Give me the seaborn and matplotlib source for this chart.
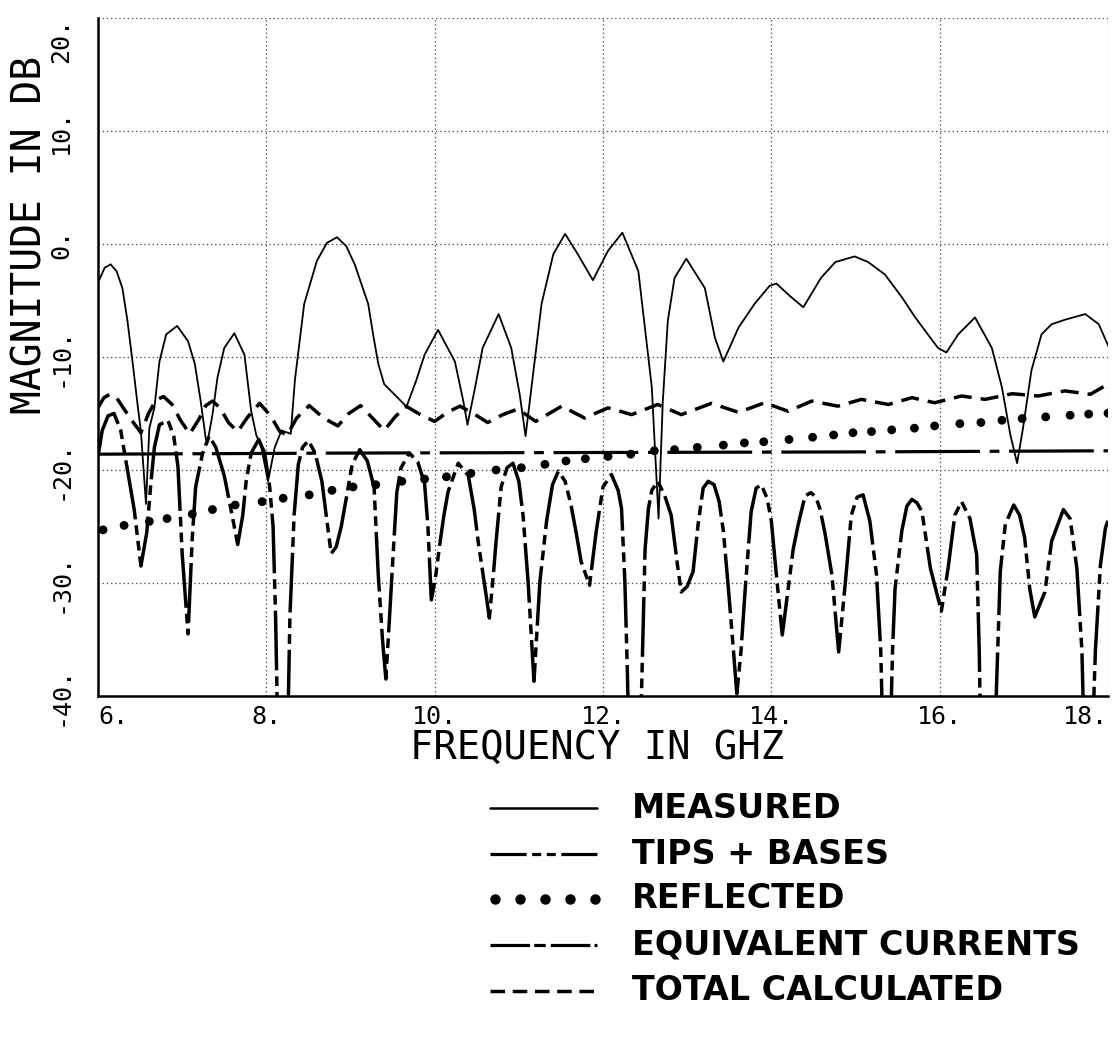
import matplotlib
matplotlib.use("Agg")
import matplotlib.pyplot as plt
import seaborn as sns
from matplotlib.lines import Line2D

# -----------------------------
# Data (frequency in GHz, magnitude in dB)
# -----------------------------
measured_f = [6.00, 6.08, 6.15, 6.22, 6.29, 6.35, 6.41, 6.47, 6.51, 6.57, 6.61, 6.67, 6.73, 6.81,
              6.94, 7.07, 7.15, 7.22, 7.28, 7.30, 7.36, 7.42, 7.50, 7.62, 7.74, 7.82, 7.88, 7.94,
              8.02, 8.10, 8.18, 8.29, 8.34, 8.45, 8.60, 8.72, 8.84, 8.95, 9.05, 9.21, 9.28, 9.33,
              9.40, 9.52, 9.64, 9.66, 9.78, 9.88, 10.04, 10.24, 10.34, 10.39, 10.48, 10.57, 10.76,
              10.91, 11.01, 11.08, 11.15, 11.27, 11.41, 11.55, 11.70, 11.88, 12.06, 12.23, 12.42,
              12.58, 12.66, 12.71, 12.77, 12.85, 12.99, 13.21, 13.33, 13.43, 13.61, 13.80, 13.98,
              14.06, 14.22, 14.38, 14.59, 14.76, 14.99, 15.15, 15.35, 15.55, 15.71, 15.86, 15.98,
              16.08, 16.22, 16.42, 16.62, 16.74, 16.84, 16.92, 16.99, 17.09, 17.21, 17.33, 17.49,
              17.73, 17.89, 18.02]
measured_db = [-3.4, -2.1, -1.8, -2.4, -3.9, -6.8, -10.4, -14.2, -16.6, -23.0, -16.3, -14.5, -10.4, -8.0,
               -7.25, -8.6, -10.6, -13.9, -17.2, -17.6, -15.1, -11.8, -9.2, -7.9, -9.8, -14.8, -16.9, -18.0,
               -21.0, -18.0, -16.5, -16.8, -12.0, -5.3, -1.5, 0.1, 0.6, -0.2, -1.8, -5.3, -8.5, -10.6,
               -12.4, -13.3, -14.2, -14.5, -12.1, -9.8, -7.6, -10.4, -13.9, -16.0, -12.7, -9.2, -6.2,
               -9.2, -13.3, -17.0, -12.7, -5.3, -0.9, 0.9, -0.9, -3.2, -0.6, 1.0, -2.4,
               -12.7, -24.3, -14.0, -6.8, -3.0, -1.3, -3.9, -8.3, -10.4, -7.4, -5.3, -3.7,
               -3.5, -4.6, -5.6, -3.0, -1.6, -1.1, -1.6, -2.7, -4.7, -6.5, -8.0, -9.2,
               -9.6, -8.0, -6.5, -9.2, -12.7, -16.9, -19.4, -16.3, -11.2, -8.0, -7.1, -6.7,
               -6.2, -7.1, -9.3]

tips_f = [6.00, 6.05, 6.12, 6.19, 6.27, 6.35, 6.43, 6.51, 6.58, 6.63, 6.67, 6.73, 6.83, 6.90, 6.95,
          7.00, 7.07, 7.12, 7.16, 7.24, 7.32, 7.40, 7.50, 7.58, 7.66, 7.72, 7.76, 7.82, 7.91, 7.98,
          8.04, 8.08, 8.11, 8.14, 8.25, 8.28, 8.33, 8.38, 8.43, 8.50, 8.58, 8.66, 8.72, 8.77, 8.83,
          8.89, 8.95, 9.02, 9.11, 9.20, 9.28, 9.33, 9.38, 9.42, 9.46, 9.51, 9.55, 9.60, 9.70, 9.80,
          9.88, 9.92, 9.96, 10.01, 10.06, 10.11, 10.16, 10.28, 10.40, 10.47, 10.52, 10.60, 10.65,
          10.70, 10.73, 10.79, 10.86, 10.93, 11.00, 11.05, 11.11, 11.18, 11.25, 11.33, 11.40, 11.47,
          11.55, 11.62, 11.68, 11.74, 11.84, 11.92, 12.00, 12.10, 12.18, 12.22, 12.26, 12.29, 12.31,
          12.44, 12.47, 12.50, 12.54, 12.58, 12.65, 12.73, 12.81, 12.89, 12.93, 13.00, 13.07, 13.13,
          13.19, 13.25, 13.32, 13.38, 13.43, 13.49, 13.55, 13.59, 13.64, 13.69, 13.76, 13.82, 13.88,
          13.95, 14.00, 14.06, 14.13, 14.20, 14.26, 14.32, 14.40, 14.47, 14.53, 14.58, 14.64, 14.72,
          14.80, 14.88, 14.95, 15.02, 15.09, 15.17, 15.25, 15.30, 15.33, 15.41, 15.44, 15.47, 15.55,
          15.61, 15.67, 15.73, 15.79, 15.89, 16.02, 16.10, 16.18, 16.26, 16.36, 16.44, 16.47, 16.49,
          16.65, 16.69, 16.72, 16.78, 16.88, 16.95, 17.01, 17.07, 17.13, 17.25, 17.33, 17.47, 17.55,
          17.63, 17.69, 17.72, 17.81, 17.85, 17.91, 17.97, 18.00]
tips_db = [-18.8, -16.5, -15.2, -15.0, -16.5, -20.0, -23.5, -28.5, -25.5, -21.0, -18.0, -16.0, -15.6, -17.0, -19.7,
           -27.4, -34.5, -26.0, -21.5, -18.6, -17.0, -18.0, -20.5, -23.5, -26.6, -24.0, -21.0, -18.5, -17.3, -18.5,
           -21.5, -25.0, -33.0, -45.0, -45.0, -33.0, -24.0, -19.5, -18.0, -17.4, -18.5, -21.0, -24.5, -27.4, -26.8,
           -25.0, -22.5, -19.5, -18.2, -19.2, -21.5, -29.3, -35.0, -38.5, -33.5, -27.0, -22.0, -19.8, -18.5, -19.3,
           -21.2, -25.0, -31.5, -29.5, -26.6, -24.0, -21.9, -19.4, -20.5, -23.5, -26.5, -30.5, -33.1,
           -29.0, -26.3, -21.5, -19.8, -19.4, -21.0, -24.0, -29.9, -38.7, -29.9, -24.5, -21.3, -20.1,
           -21.0, -23.1, -25.5, -28.1, -30.2, -25.4, -21.5, -20.4, -21.8, -23.4, -29.9, -38.0, -45.0,
           -45.0, -36.0, -27.0, -23.4, -21.8, -21.0, -22.2, -24.0, -28.7, -30.8, -30.3, -29.0, -24.8,
           -21.6, -21.0, -21.3, -22.8, -25.4, -30.5, -36.0, -39.8, -36.0, -30.5, -23.7, -21.6, -21.3,
           -22.5, -24.5, -29.3, -34.6, -30.5, -27.0, -24.8, -22.3, -22.0, -22.4, -23.5, -25.7, -29.3,
           -36.1, -29.9, -24.0, -22.4, -22.2, -24.5, -29.3, -36.0, -45.0, -45.0, -36.0, -30.5, -25.4,
           -23.2, -22.6, -22.9, -23.7, -28.7, -32.5, -28.7, -24.0, -22.8, -24.3, -27.5, -36.0, -45.0,
           -45.0, -36.0, -29.0, -24.8, -23.1, -24.0, -26.0, -30.5, -33.0, -30.8, -26.3, -23.5, -24.3,
           -28.7, -36.0, -45.0, -45.0, -36.0, -28.4, -25.1, -24.5]

reflected_f = [6.06, 6.31, 6.61, 6.82, 7.12, 7.36, 7.63, 7.95, 8.20, 8.51, 8.78, 9.03, 9.30, 9.61,
               9.88, 10.14, 10.43, 10.73, 11.03, 11.31, 11.56, 11.79, 12.06, 12.33, 12.61, 12.85,
               13.12, 13.43, 13.68, 13.91, 14.21, 14.49, 14.74, 14.97, 15.19, 15.43, 15.70, 15.94,
               16.24, 16.49, 16.74, 16.98, 17.26, 17.55, 17.77, 18.00]
reflected_db = [-25.3, -24.9, -24.55, -24.3, -23.9, -23.5, -23.1, -22.8, -22.5, -22.2, -21.8, -21.5,
                -21.3, -21.0, -20.8, -20.6, -20.3, -20.0, -19.8, -19.5, -19.2, -19.0, -18.8, -18.6,
                -18.3, -18.2, -18.0, -17.8, -17.6, -17.5, -17.3, -17.1, -16.9, -16.7, -16.6, -16.45,
                -16.3, -16.1, -15.9, -15.8, -15.6, -15.45, -15.3, -15.15, -15.05, -14.97]

equiv_f = [6.0, 9.0, 12.0, 15.0, 18.0]
equiv_db = [-18.6, -18.5, -18.45, -18.4, -18.3]

total_f = [6.00, 6.07, 6.14, 6.22, 6.30, 6.40, 6.51, 6.60, 6.69, 6.78, 6.88, 6.98, 7.09, 7.20, 7.28,
           7.36, 7.45, 7.55, 7.66, 7.78, 7.92, 8.05, 8.16, 8.25, 8.36, 8.51, 8.68, 8.85, 8.98, 9.12,
           9.26, 9.40, 9.53, 9.66, 9.83, 10.00, 10.15, 10.30, 10.46, 10.63, 10.81, 10.99, 11.20,
           11.51, 11.78, 12.06, 12.34, 12.65, 12.93, 13.29, 13.61, 13.92, 14.20, 14.48, 14.79,
           15.07, 15.39, 15.67, 15.94, 16.26, 16.54, 16.86, 17.17, 17.49, 17.79, 18.00]
total_db = [-14.5, -13.6, -13.3, -13.6, -14.5, -15.6, -16.7, -15.0, -13.8, -13.5, -14.2, -15.6, -16.8, -15.5, -14.3,
            -13.9, -14.5, -15.8, -16.6, -15.3, -14.1, -15.2, -16.6, -16.9, -15.4, -14.3, -15.4, -16.1, -15.0, -14.3,
            -15.4, -16.5, -15.3, -14.35, -15.1, -15.7, -14.9, -14.35, -15.0, -15.8, -15.1, -14.6, -15.7,
            -14.35, -15.4, -14.5, -15.1, -14.2, -15.1, -14.1, -14.9, -14.05, -14.8, -13.9, -14.35,
            -13.75, -14.2, -13.6, -14.05, -13.45, -13.75, -13.25, -13.45, -13.0, -13.3, -12.4]

x_ticks = [6, 8, 10, 12, 14, 16, 18]
y_ticks = [-40, -30, -20, -10, 0, 10, 20]
legend_labels = ["MEASURED", "TIPS + BASES", "REFLECTED", "EQUIVALENT CURRENTS", "TOTAL CALCULATED"]

# -----------------------------
# Style
# -----------------------------
sns.set_theme(style="white")
plt.rcParams["font.family"] = ["DejaVu Sans Mono", "DejaVu Sans"]
plt.rcParams["lines.scale_dashes"] = False
plt.rcParams["text.color"] = "black"

W, H = 1113, 1048
fig = plt.figure(figsize=(W / 100, H / 100), dpi=100)
ax = fig.add_axes([98 / W, 1 - 696 / H, 1010 / W, 678 / H])

tips_ls = (0, (43, 4.3, 7, 4.3, 7, 4.3))
equiv_ls = (0, (61, 7, 7, 7))
total_ls = (0, (13, 6.5))

# -----------------------------
# Curves
# -----------------------------
sns.lineplot(x=measured_f, y=measured_db, ax=ax, color="black", lw=1.3,
             sort=False, estimator=None)
sns.lineplot(x=tips_f, y=tips_db, ax=ax, color="black", lw=2.5,
             sort=False, estimator=None, linestyle=tips_ls)
sns.lineplot(x=equiv_f, y=equiv_db, ax=ax, color="black", lw=2.3,
             sort=False, estimator=None, linestyle=equiv_ls)
sns.lineplot(x=total_f, y=total_db, ax=ax, color="black", lw=2.5,
             sort=False, estimator=None, linestyle=total_ls)
sns.scatterplot(x=reflected_f, y=reflected_db, ax=ax, color="black", s=40,
                edgecolor="none", linewidth=0)

# -----------------------------
# Axes
# -----------------------------
ax.set_xlim(6, 18)
ax.set_ylim(-40, 20)
ax.set_xticks(x_ticks)
ax.set_xticklabels([f"{v}." for v in x_ticks])
ax.set_yticks(y_ticks)
ax.set_yticklabels([f"{v}." for v in y_ticks])
ax.grid(True, color="0.3", lw=0.9, linestyle=(0, (1, 2)))
for side in ["top", "right"]:
    ax.spines[side].set_visible(False)
for side in ["left", "bottom"]:
    ax.spines[side].set_color("black")
    ax.spines[side].set_linewidth(1.8)
ax.tick_params(axis="x", direction="out", length=6, width=1.5,
               colors="black", labelsize=18, pad=0.5)
ax.tick_params(axis="y", direction="out", length=11, width=1.5,
               colors="black", labelsize=18, pad=7, labelrotation=90)
ylabs = ax.get_yticklabels()
for lab in ylabs:
    lab.set_va("center")
ylabs[-1].set_va("top")
xlabs = ax.get_xticklabels()
xlabs[0].set_ha("left")
xlabs[-1].set_ha("right")
ax.set_xlabel("")
ax.set_ylabel("")
ax.text(-0.0673, 0.68, "MAGNITUDE IN DB", transform=ax.transAxes, rotation=90,
        ha="center", va="center", fontsize=28.5, color="black")
ax.text(0.494, (696 - 729) / 678, "FREQUENCY IN GHZ", transform=ax.transAxes,
        ha="center", va="top", fontsize=28, color="black")

# -----------------------------
# Legend (drawn below the plot)
# -----------------------------
row_y = [808, 854, 899, 945, 991]
x0, x1, xt = 490, 597, 632
legend_styles = [
    dict(lw=1.8, linestyle="-"),
    dict(lw=2.3, linestyle=(0, (26, 4, 6.5, 4, 6.5, 4))),
    None,
    dict(lw=2.3, linestyle=(0, (28.5, 3, 8.3, 3.6))),
    dict(lw=2.5, linestyle=(0, (10.5, 5.5))),
]
for label, yy, st in zip(legend_labels, row_y, legend_styles):
    yf = 1 - yy / H
    if st is None:
        fig.add_artist(Line2D([(x0 + 5 + i * 25) / W for i in range(5)], [yf] * 5,
                              transform=fig.transFigure, color="black", lw=0,
                              marker="o", markersize=6.5))
    else:
        fig.add_artist(Line2D([x0 / W, x1 / W], [yf, yf], transform=fig.transFigure,
                              color="black", **st))
    fig.text(xt / W, yf, label, ha="left", va="center", fontsize=24,
             fontweight="bold", family="DejaVu Sans", color="black")

fig.savefig("out.png", dpi=100)
